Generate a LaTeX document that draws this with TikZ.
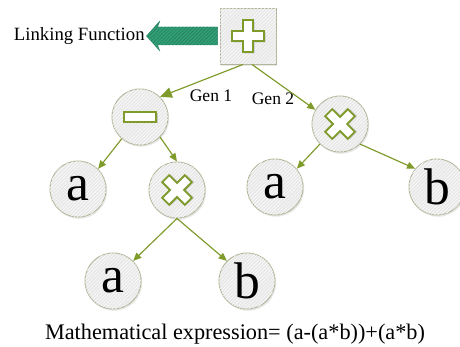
\documentclass[tikz,border=0pt]{standalone}
\usepackage{fontspec}
\setmainfont{Liberation Serif}
\usepackage{tikz}
\usetikzlibrary{arrows.meta, positioning, shadows, patterns}
\usepackage{xcolor}
\definecolor{olivegreen}{HTML}{7F9B2C}
\definecolor{nodeborder}{HTML}{B3B69A}
\definecolor{nodefill}{HTML}{E8E8E8}
\definecolor{linkteal}{HTML}{31A077}

\tikzset{
  opnode/.style={circle, draw=nodeborder, fill=nodefill, line width=0.8pt, minimum size=1.68cm, inner sep=0pt,
    drop shadow={opacity=0.18, shadow xshift=1pt, shadow yshift=-1.5pt},
    postaction={pattern=north east lines, pattern color=white}},
  opsquare/.style={opnode, rectangle},
  leafnode/.style={opnode, font=\fontsize{44}{44}\selectfont},
  genedge/.style={draw=olivegreen, line width=1pt, -{Triangle[length=7pt,width=6pt]}},
  genlabel/.style={font=\fontsize{15}{15}\selectfont, inner sep=0pt},
  symbol/.style={draw=olivegreen, fill=white, line width=1.6pt, line join=miter},
  symshadow/.style={fill=black!22, draw=none},
  linkarrow/.style={fill=linkteal, draw=linkteal!85!black, line width=0.4pt,
    postaction={pattern=north east lines, pattern color=linkteal!75!black}},
  plus sign/.pic={
    \foreach \sty/\d in {symshadow/1.5, symbol/0}
      \draw[\sty, shift={(\d,\d)}] (-5,-16) -- (5,-16) -- (5,-5) -- (16,-5) -- (16,5) -- (5,5)
        -- (5,16) -- (-5,16) -- (-5,5) -- (-16,5) -- (-16,-5) -- (-5,-5) -- cycle;
  },
  minus sign/.pic={
    \foreach \sty/\d in {symshadow/1.5, symbol/0}
      \draw[\sty, shift={(\d,\d)}] (-16,-5) rectangle (16,5);
  }
}

\begin{document}
\begin{tikzpicture}[x=0.03cm, y=-0.03cm]
\useasboundingbox (0,0) rectangle (460,347);

% root and linking function
\node[opsquare] (plus) at (248,36) {};
\pic at (plus) {plus sign};
\draw[linkarrow, shift={(plus.west)}] (-2,-9) -- (-62,-9) -- (-60,-14.5) -- (-73,0)
  -- (-60,14.5) -- (-62,9) -- (-2,9) -- cycle;
\coordinate (linktip) at ([xshift=-2.19cm]plus.west);
\node[font=\fontsize{16}{16}\selectfont, anchor=east, inner sep=0.05cm] (linktext) at (linktip) {Linking Function};

% gene 1
\node[opnode] (minus) at (140,117) {};
\pic at (minus) {minus sign};
\node[leafnode] (la) at (78,189) {a};
\node[opnode] (mt) at (177,190) {};
\pic[rotate=45] at (mt) {plus sign};
\node[leafnode] (ba) at (113,281) {a};
\node[leafnode] (bb) at (247,281) {b};

% gene 2
\node[opnode] (rt) at (340,124) {};
\pic[rotate=45] at (rt) {plus sign};
\node[leafnode] (ra) at (275,187) {a};
\node[leafnode] (rb) at (437,187) {b};

\node[genlabel] (gen1) at (211,96) {Gen 1};
\node[genlabel] (gen2) at (273,99) {Gen 2};

\draw[genedge, -{Triangle[length=10pt,width=9pt]}] ([xshift=-0.15cm]plus.south) -- (minus.45);
\draw[genedge] ([xshift=0.12cm]plus.south) -- (rt.150);
\draw[genedge] (minus.230) -- (la.45);
\draw[genedge] (minus.-45) -- (mt.north);
\draw[genedge] (mt.south) -- (ba.45);
\draw[genedge] (mt.south) -- (bb.135);
\draw[genedge] (rt.225) -- (ra.40);
\draw[genedge] (rt.-45) -- (rb.140);

\node[font=\fontsize{19}{19}\selectfont] (expr) at (235,334) {Mathematical expression= (a-(a*b))+(a*b)};
\end{tikzpicture}
\end{document}
